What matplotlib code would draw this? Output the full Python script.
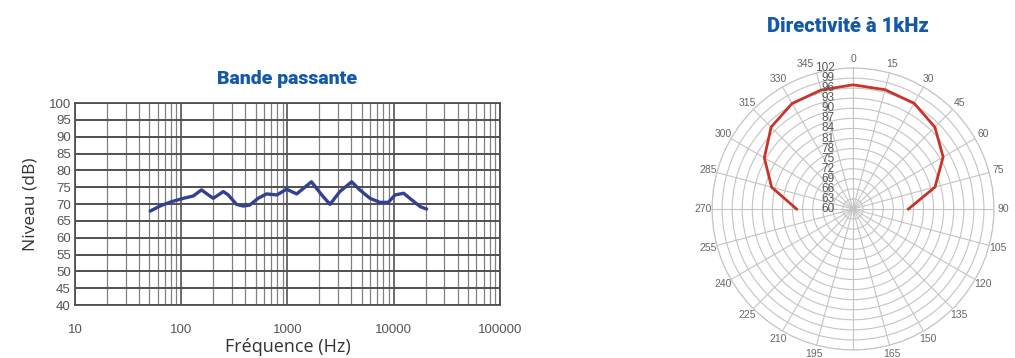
import numpy as np
import matplotlib
matplotlib.use('Agg')
import matplotlib.pyplot as plt
from matplotlib.ticker import LogLocator, FixedLocator, NullFormatter
from matplotlib.transforms import offset_copy

# Bande passante (fréquence en Hz, niveau en dB)
freq = [51, 63, 81, 105, 130, 155, 180, 200, 249, 277, 331, 383, 441, 529,
        635, 790, 845, 980, 1220, 1680, 2100, 2510, 3110, 4020, 4790, 5970,
        7400, 8890, 10300, 12400, 14800, 17800, 20400]
level = [67.9, 69.4, 70.7, 71.7, 72.4, 74.2, 72.7, 71.7, 73.7, 72.7, 69.9, 69.4,
         69.7, 71.7, 73.0, 72.7, 73.2, 74.4, 73.0, 76.6, 72.7, 69.9, 73.7, 76.6,
         74.2, 71.7, 70.5, 70.5, 72.7, 73.2, 71.2, 69.2, 68.5]
y_ticks = list(range(40, 101, 5))
x_ticks = [10, 100, 1000, 10000, 100000]
x_ticklabels = ['10', '100', '1000', '10000', '100000']

# Directivité à 1 kHz (angle en degrés, niveau en dB)
angles = [270, 285, 300, 315, 330, 345, 0, 15, 30, 45, 60, 75, 90]
directivity = [76.8, 85.1, 90.5, 94.5, 96.3, 96.7, 97.0, 96.8, 96.4, 94.5, 91.0, 85.3, 76.5]
r_ticks = list(range(60, 103, 3))
theta_ticks = list(range(0, 360, 15))
# le libellé 180 sort du cadre dans l'original
theta_labels = ['' if t == 180 else str(t) for t in theta_ticks]

blue_title = '#1458a8'
txt_gray = '#555555'
narrow = ['Liberation Sans Narrow', 'Liberation Sans']

fig = plt.figure(figsize=(10.15, 3.58), dpi=100)

# --- Bande passante ---
ax = fig.add_axes([0.0739, 0.148, 0.4187, 0.5642])
ax.plot(freq, level, color='#34418f', lw=2.4, solid_capstyle='round')
ax.set_xscale('log')
ax.set_xlim(10, 100000)
ax.set_ylim(40, 100)
ax.yaxis.set_major_locator(FixedLocator(y_ticks))
ax.xaxis.set_major_locator(FixedLocator(x_ticks))
ax.set_xticklabels(x_ticklabels)
ax.xaxis.set_minor_locator(LogLocator(base=10, subs=np.arange(2, 10)))
ax.xaxis.set_minor_formatter(NullFormatter())
ax.grid(True, which='major', axis='y', color='#505050', lw=1.4)
ax.grid(True, which='major', axis='x', color='#606060', lw=1.3)
ax.grid(True, which='minor', axis='x', color='#808080', lw=0.9)
ax.set_axisbelow(True)
for s in ax.spines.values():
    s.set_color('#505050')
    s.set_linewidth(1.3)
ax.tick_params(axis='both', which='both', length=0, colors=txt_gray, labelsize=9.5)
ax.tick_params(axis='x', pad=14)
ax.tick_params(axis='y', pad=3)
for lab in ax.get_xticklabels() + ax.get_yticklabels():
    lab.set_family(narrow)
ax.set_xlabel('Fréquence (Hz)', fontsize=13, color='#333333', family='Open Sans', labelpad=1)
ax.set_ylabel('Niveau (dB)', fontsize=12.5, color='#333333', family='Open Sans', labelpad=7)
ax.set_title('Bande passante', fontsize=14, fontweight='heavy', color=blue_title,
             family='Roboto', pad=14)

# --- Directivité ---
pax = fig.add_axes([0.7015, 0.0223, 0.2778, 0.7877], projection='polar')
pax.set_theta_zero_location('N')
pax.set_theta_direction(-1)
pax.set_ylim(60, 102)
pax.plot(np.deg2rad(angles), directivity, color='#c8342a', lw=2.0)
pax.set_thetagrids(theta_ticks, theta_labels)
pax.set_rgrids(r_ticks, labels=[''] * len(r_ticks))
pax.grid(True, color='#c4c4c4', lw=0.8)
pax.spines['polar'].set_color('#c4c4c4')
pax.spines['polar'].set_linewidth(0.8)
pax.tick_params(axis='x', labelsize=7.5, colors='#666666', pad=-4)
for lab in pax.get_xticklabels():
    lab.set_family('Liberation Sans')
    if lab.get_text() == '345':
        lab.set_horizontalalignment('right')
trans = offset_copy(pax.transData, fig=fig, x=-13, y=0, units='points')
for r in r_ticks:
    pax.text(0, r, str(r), transform=trans, ha='right', va='center',
             fontsize=8.5, color='#555555', family=narrow)
fig.text(0.8355, 0.925, 'Directivité à 1kHz', ha='center', va='center',
         fontsize=14.5, fontweight='heavy', color=blue_title, family='Roboto')

fig.savefig('out.png', dpi=100)
